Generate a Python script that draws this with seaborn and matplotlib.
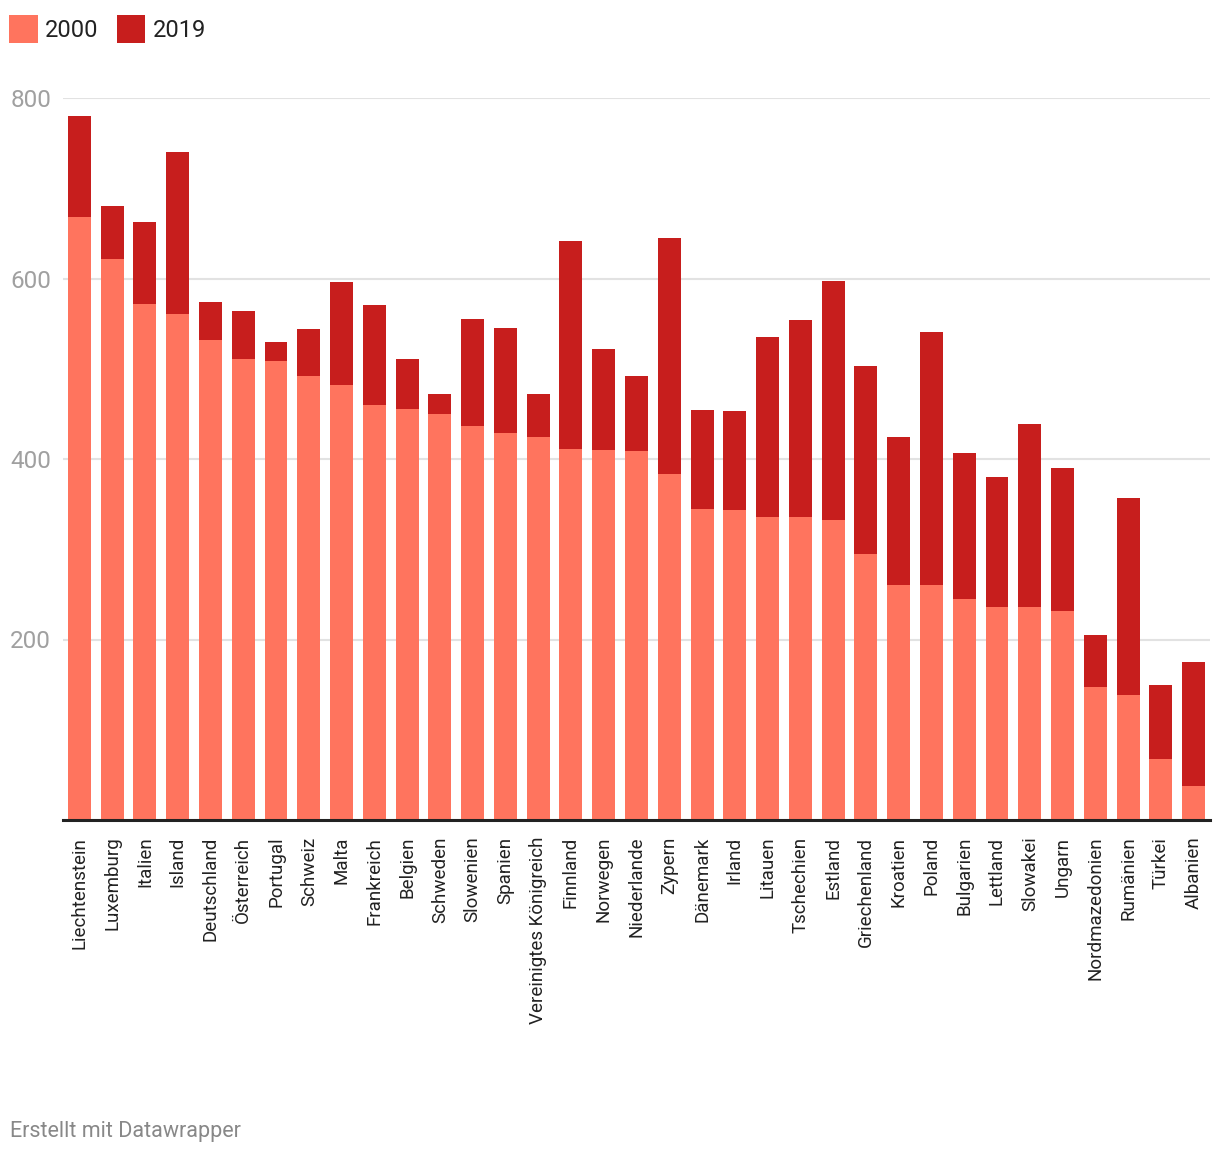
import pandas as pd
import matplotlib.pyplot as plt
import seaborn as sns
from matplotlib.patches import Patch

# Data
countries = ['Liechtenstein', 'Luxemburg', 'Italien', 'Island', 'Deutschland', 'Österreich',
             'Portugal', 'Schweiz', 'Malta', 'Frankreich', 'Belgien', 'Schweden', 'Slowenien',
             'Spanien', 'Vereinigtes Königreich', 'Finnland', 'Norwegen', 'Niederlande', 'Zypern',
             'Dänemark', 'Irland', 'Litauen', 'Tschechien', 'Estland', 'Griechenland', 'Kroatien',
             'Poland', 'Bulgarien', 'Lettland', 'Slowakei', 'Ungarn', 'Nordmazedonien', 'Rumänien',
             'Türkei', 'Albanien']
values_2000 = [668, 622, 572, 561, 532, 511, 509, 492, 482, 460, 455, 450, 437, 429, 424,
               411, 410, 409, 383, 345, 343, 336, 336, 332, 295, 260, 260, 245, 236, 236,
               232, 147, 139, 68, 38]
values_2019 = [780, 680, 663, 740, 574, 564, 530, 544, 596, 571, 511, 472, 555, 545, 472,
               642, 522, 492, 645, 454, 453, 535, 554, 597, 503, 424, 541, 407, 380, 439,
               390, 205, 357, 150, 175]
y_ticks = [200, 400, 600, 800]

df = pd.DataFrame({'country': countries, '2000': values_2000, '2019': values_2019})

c2000 = '#ff745e'
c2019 = '#c71e1d'

sns.set_theme(style='white')
plt.rcParams['font.family'] = ['Roboto', 'DejaVu Sans']

fig = plt.figure(figsize=(12.2, 11.56), dpi=100)
ax = fig.add_axes([63 / 1220, 1 - 820 / 1156, 1147 / 1220, 722 / 1156])

# 2019 behind, 2000 in front
sns.barplot(data=df, x='country', y='2019', color=c2019, saturation=1, width=0.7,
            linewidth=0, ax=ax, zorder=2)
sns.barplot(data=df, x='country', y='2000', color=c2000, saturation=1, width=0.7,
            linewidth=0, ax=ax, zorder=3)

ax.set_xlim(-0.5, len(countries) - 0.5)
ax.set_ylim(0, 800)
ax.set_xlabel('')
ax.set_ylabel('')

ax.set_yticks(y_ticks)
ax.set_yticklabels([str(t) for t in y_ticks], color='#a0a0a0', fontsize=17.5)
ax.tick_params(axis='y', length=0, pad=38)
for lbl in ax.get_yticklabels():
    lbl.set_horizontalalignment('left')
ax.yaxis.grid(True, color='#e2e2e2', linewidth=1.5, zorder=0)
ax.set_axisbelow(True)

ax.tick_params(axis='x', length=0, pad=12, labelsize=13.5, labelcolor='#222222')
plt.setp(ax.get_xticklabels(), rotation=90, va='top', ha='center')

for s in ['top', 'right', 'left']:
    ax.spines[s].set_visible(False)
ax.spines['bottom'].set_color('#222222')
ax.spines['bottom'].set_linewidth(2.2)
ax.spines['bottom'].set_zorder(5)

handles = [Patch(facecolor=c2000, edgecolor='none', label='2000'),
           Patch(facecolor=c2019, edgecolor='none', label='2019')]
fig.legend(handles=handles, loc='upper left', bbox_to_anchor=(-12 / 1220, 1 + 6 / 1156), ncol=2,
           frameon=False, fontsize=17, handlelength=1.2, handleheight=1.4,
           handletextpad=0.3, columnspacing=0.8, labelcolor='#222222')

fig.text(10 / 1220, 1 - 1131 / 1156, 'Erstellt mit Datawrapper', fontsize=15.5,
         color='#888888', va='center', ha='left')

fig.savefig('out.png', dpi=100)
